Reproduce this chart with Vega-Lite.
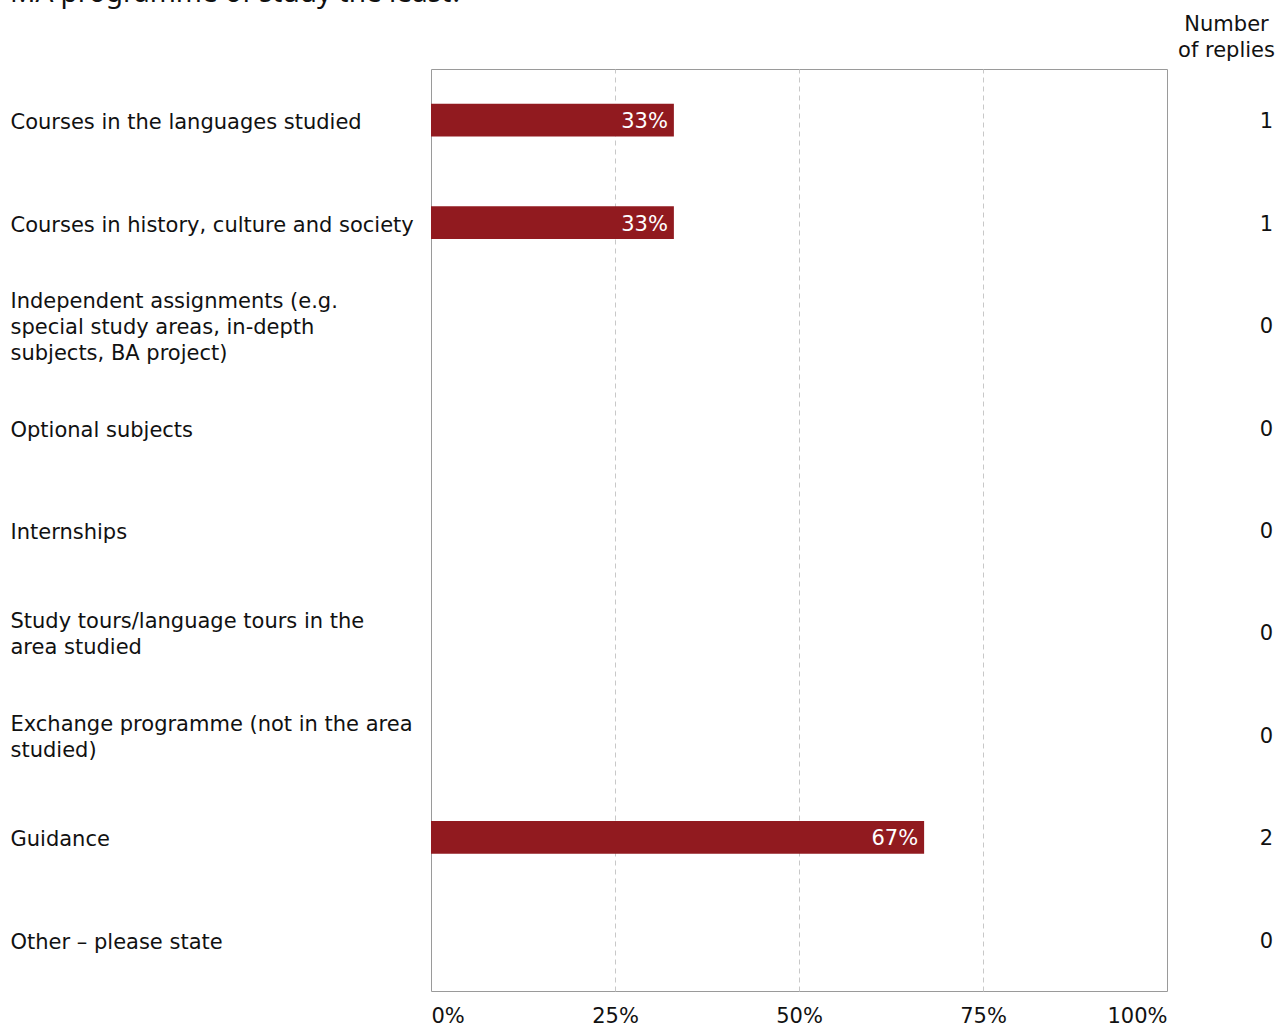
{
  "$schema": "https://vega.github.io/schema/vega-lite/v6.json",
  "width": 736,
  "height": 922,
  "autosize": {"type": "none"},
  "padding": {"left": 431, "top": 69, "right": 112, "bottom": 36},
  "background": "white",
  "title": {
    "text": "MA programme of study the least?",
    "anchor": "start",
    "frame": "group",
    "orient": "top",
    "offset": -17,
    "dx": -421,
    "baseline": "alphabetic",
    "font": "Noto Sans",
    "fontSize": 28,
    "fontWeight": "normal",
    "color": "#111111"
  },
  "config": {
    "font": "DejaVu Sans",
    "view": {"stroke": "#9a9a9a", "strokeWidth": 1}
  },
  "data": {
    "values": [
      {"cat": "Courses in the languages studied", "share": 0.33, "n": 1, "lab": "33%", "ord": 1},
      {"cat": "Courses in history, culture and society", "share": 0.33, "n": 1, "lab": "33%", "ord": 2},
      {"cat": "Independent assignments (e.g.|special study areas, in-depth|subjects, BA project)", "share": 0, "n": 0, "lab": "", "ord": 3},
      {"cat": "Optional subjects", "share": 0, "n": 0, "lab": "", "ord": 4},
      {"cat": "Internships", "share": 0, "n": 0, "lab": "", "ord": 5},
      {"cat": "Study tours/language tours in the|area studied", "share": 0, "n": 0, "lab": "", "ord": 6},
      {"cat": "Exchange programme (not in the area|studied)", "share": 0, "n": 0, "lab": "", "ord": 7},
      {"cat": "Guidance", "share": 0.67, "n": 2, "lab": "67%", "ord": 8},
      {"cat": "Other – please state", "share": 0, "n": 0, "lab": "", "ord": 9}
    ]
  },
  "encoding": {
    "y": {
      "field": "cat",
      "type": "nominal",
      "sort": {"field": "ord", "order": "ascending"},
      "scale": {"paddingInner": 0.68, "paddingOuter": 0.34},
      "axis": {
        "title": null,
        "ticks": false,
        "domain": false,
        "labelAlign": "left",
        "labelPadding": 421,
        "labelLimit": 0,
        "labelFontSize": 21,
        "labelColor": "#111111",
        "labelLineHeight": 26,
        "labelOffset": {
          "condition": [
            {"test": "length(split(datum.value, '|')) == 3", "value": -23},
            {"test": "length(split(datum.value, '|')) == 2", "value": -10}
          ],
          "value": 3
        },
        "labelExpr": "split(datum.label, '|')"
      }
    }
  },
  "layer": [
    {
      "mark": {"type": "bar", "color": "#911a1f"},
      "encoding": {
        "x": {
          "field": "share",
          "type": "quantitative",
          "scale": {"domain": [0, 1], "nice": false},
          "axis": {
            "title": null,
            "values": [0, 0.25, 0.5, 0.75, 1],
            "format": ".0%",
            "labelFlush": true,
            "labelFontSize": 21,
            "labelColor": "#111111",
            "labelPadding": 14,
            "ticks": false,
            "domain": false,
            "grid": true,
            "gridDash": [5, 4],
            "gridColor": "#c8c8c8",
            "gridOpacity": {"condition": {"test": "datum.value == 0 || datum.value == 1", "value": 0}, "value": 1}
          }
        }
      }
    },
    {
      "mark": {"type": "text", "align": "right", "dx": -6, "dy": 2, "baseline": "middle", "color": "white", "fontSize": 21},
      "encoding": {
        "x": {"field": "share", "type": "quantitative", "axis": null},
        "text": {"field": "lab"}
      }
    },
    {
      "mark": {"type": "text", "align": "right", "dx": 106, "dy": 2, "baseline": "middle", "color": "#111111", "fontSize": 21},
      "encoding": {
        "x": {
          "datum": 1,
          "type": "quantitative",
          "axis": {
            "orient": "top",
            "labels": false,
            "ticks": false,
            "domain": false,
            "grid": false,
            "title": ["Number", "of replies"],
            "titleFontSize": 21,
            "titleFontWeight": "normal",
            "titleColor": "#111111",
            "titleAlign": "center",
            "titleAnchor": "end",
            "titleBaseline": "middle",
            "titleLineHeight": 26,
            "titleX": 795,
            "titleY": -45
          }
        },
        "text": {"field": "n"}
      }
    }
  ],
  "resolve": {"axis": {"x": "independent"}}
}
